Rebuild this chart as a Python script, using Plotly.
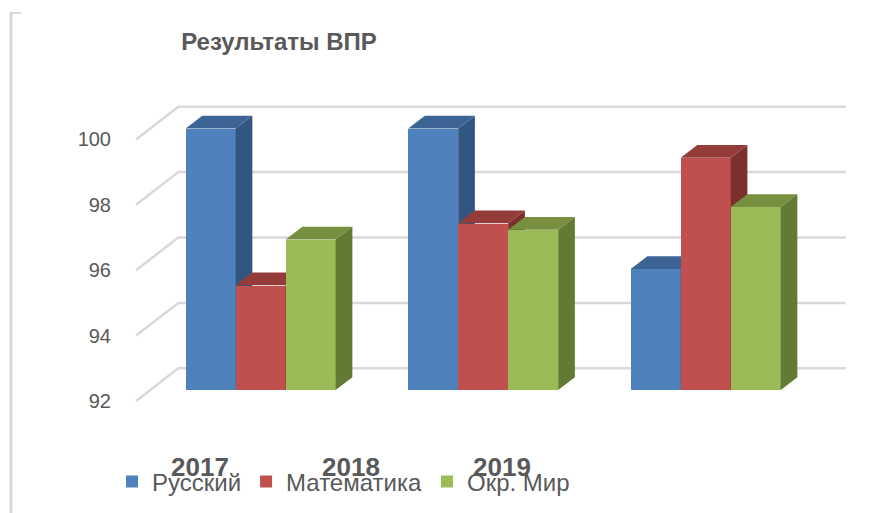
import plotly.graph_objects as go

# ---------------- data ----------------
YEARS = ["2017", "2018", "2019"]
SERIES = ["Русский", "Математика", "Окр. Мир"]
RUSSIAN = [100.0, 100.0, 95.7]
MATH = [95.2, 97.1, 99.1]
WORLD = [96.6, 96.9, 97.6]
Y_TICKS = [92, 94, 96, 98, 100]
TITLE = "Результаты ВПР"

VALUES = [RUSSIAN, MATH, WORLD]
FRONT = ["#4F81BD", "#C0504D", "#9BBB59"]
TOP = ["#3C6595", "#943C3A", "#77903F"]
SIDE = ["#335680", "#7B302E", "#637A34"]

W, H = 871, 513
BASE = 92.0
XR = [-0.7, 2.68]
YR = [91.0, 101.0]
XDOM = [104.9 / W, 857.0 / W]
YDOM = [1 - 422.7 / H, 1 - 95.7 / H]

BAR_W = 0.2247          # width of one bar (category units)
DEPTH_X, DEPTH_Y = 0.075, 0.39      # bar depth projection
BACK_X, BACK_Y = 0.13, 0.664        # back wall offset from bar plane
FRONT_X, FRONT_Y = -0.06, -0.336    # front edge offset from bar plane

GRID = "#D9D9D9"
TXT = "#595959"
FONT = "Liberation Sans, Arial, sans-serif"

fig = go.Figure()

# ---- walls / gridlines (base subplot, drawn underneath) ----
n = len(YEARS)
for v in Y_TICKS:
    fig.add_trace(go.Scatter(
        x=[-0.5 + FRONT_X, -0.5 + BACK_X, n - 0.5 + BACK_X],
        y=[v + FRONT_Y, v + BACK_Y, v + BACK_Y],
        mode="lines", line=dict(color=GRID, width=2.5),
        showlegend=False, hoverinfo="skip", xaxis="x", yaxis="y"))

# ---- bars: one overlay subplot per series to get 3D stacking order ----
for j, (name, vals) in enumerate(zip(SERIES, VALUES)):
    ax = j + 2
    xa, ya = f"x{ax}", f"y{ax}"
    off = (j - 1.5) * BAR_W
    fig.add_trace(go.Bar(
        x=list(range(n)), y=[v - BASE for v in vals], base=BASE,
        width=BAR_W, offset=off, name=name,
        marker=dict(color=FRONT[j], line=dict(width=0)),
        xaxis=xa, yaxis=ya))
    for i, v in enumerate(vals):
        x0 = i + off
        x1 = x0 + BAR_W
        # top face
        fig.add_trace(go.Scatter(
            x=[x0, x1, x1 + DEPTH_X, x0 + DEPTH_X, x0],
            y=[v, v, v + DEPTH_Y, v + DEPTH_Y, v],
            mode="lines", fill="toself", fillcolor=TOP[j],
            line=dict(width=0, color=TOP[j]),
            showlegend=False, hoverinfo="skip", xaxis=xa, yaxis=ya))
        # side face
        fig.add_trace(go.Scatter(
            x=[x1, x1, x1 + DEPTH_X, x1 + DEPTH_X, x1],
            y=[BASE, v, v + DEPTH_Y, BASE + DEPTH_Y, BASE],
            mode="lines", fill="toself", fillcolor=SIDE[j],
            line=dict(width=0, color=SIDE[j]),
            showlegend=False, hoverinfo="skip", xaxis=xa, yaxis=ya))

# ---- invisible carriers for category labels and value labels ----
fig.add_trace(go.Scatter(x=list(range(n)), y=[BASE] * n, mode="markers",
                         marker=dict(opacity=0), showlegend=False,
                         hoverinfo="skip", xaxis="x5", yaxis="y"))
fig.add_trace(go.Scatter(x=[0] * len(Y_TICKS), y=Y_TICKS, mode="markers",
                         marker=dict(opacity=0), showlegend=False,
                         hoverinfo="skip", xaxis="x", yaxis="y6"))

hidden = dict(visible=False, showgrid=False, zeroline=False, fixedrange=True)
layout_axes = {
    "xaxis": dict(range=XR, domain=XDOM, anchor="y", **hidden),
    "yaxis": dict(range=YR, domain=YDOM, anchor="x", **hidden),
}
for k in (2, 3, 4):
    layout_axes[f"xaxis{k}"] = dict(range=XR, domain=XDOM, anchor=f"y{k}",
                                     overlaying="x", **hidden)
    layout_axes[f"yaxis{k}"] = dict(range=YR, domain=YDOM, anchor=f"x{k}",
                                     overlaying="y", **hidden)

# category labels (positions as in reference)
CAT_SCALE = 151.0
c0 = -(200.0 - 104.9) / CAT_SCALE
c1 = c0 + (857.0 - 104.9) / CAT_SCALE
layout_axes["xaxis5"] = dict(
    range=[c0, c1], domain=XDOM, overlaying="x", anchor="free",
    position=1 - 449.0 / H, side="bottom",
    tickmode="array", tickvals=list(range(n)), ticktext=YEARS,
    showgrid=False, zeroline=False, showline=False, ticks="",
    tickfont=dict(family=FONT, size=26, color=TXT, weight="bold"))

# value labels (front-edge positions)
layout_axes["yaxis6"] = dict(
    range=[YR[0] - FRONT_Y, YR[1] - FRONT_Y], domain=YDOM, overlaying="y",
    anchor="free", position=111.0 / W, side="left",
    tickmode="array", tickvals=Y_TICKS, ticktext=[str(t) for t in Y_TICKS],
    showgrid=False, zeroline=False, showline=False, ticks="",
    tickfont=dict(family=FONT, size=20, color=TXT))

fig.update_layout(
    width=W, height=H, autosize=False,
    margin=dict(l=0, r=0, t=0, b=0),
    paper_bgcolor="white", plot_bgcolor="rgba(0,0,0,0)",
    title=dict(text=TITLE, x=279.0 / W, xanchor="center",
               y=1 - 42.0 / H, yanchor="middle",
               font=dict(family=FONT, size=24, color=TXT, weight="bold")),
    legend=dict(orientation="h", x=112.0 / W, xanchor="left",
                y=1 - 482.0 / H, yanchor="middle",
                bgcolor="rgba(0,0,0,0)",
                font=dict(family=FONT, size=24, color=TXT)),
    bargap=0.0,
    shapes=[
        dict(type="line", xref="paper", yref="paper",
             x0=11.0 / W, x1=11.0 / W, y0=0, y1=1 - 12.0 / H,
             line=dict(color=GRID, width=3)),
        dict(type="line", xref="paper", yref="paper",
             x0=11.0 / W, x1=21.0 / W, y0=1 - 13.0 / H, y1=1 - 13.0 / H,
             line=dict(color=GRID, width=2)),
    ],
    **layout_axes,
)

fig.write_html("out.html")
